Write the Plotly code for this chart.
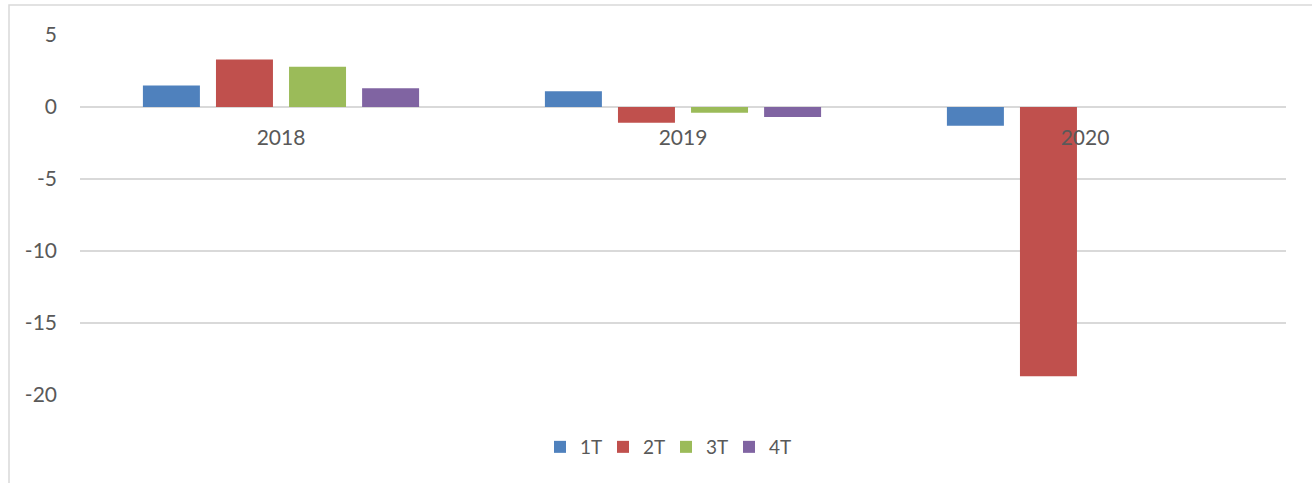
import plotly.graph_objects as go

categories = ["2018", "2019", "2020"]
series_names = ["1T", "2T", "3T", "4T"]
values_1T = [1.5, 1.1, -1.3]
values_2T = [3.3, -1.1, -18.7]
values_3T = [2.8, -0.4, None]
values_4T = [1.3, -0.7, None]
y_ticks = [5, 0, -5, -10, -15, -20]
y_tick_labels = ["5", "0", "-5", "-10", "-15", "-20"]

colors = ["#4F81BD", "#C0504D", "#9BBB59", "#8064A2"]
all_values = [values_1T, values_2T, values_3T, values_4T]

fig = go.Figure()
for name, vals, col in zip(series_names, all_values, colors):
    fig.add_trace(go.Bar(x=categories, y=vals, name=name, marker=dict(color=col, line=dict(width=0))))

W, H = 1312, 483
L, R, T, B = 80, 26, 35, 88
ymin, ymax = -20, 5
zero_pos = (0 - ymin) / (ymax - ymin)
ph = H - T - B
pw = W - L - R

fig.update_layout(
    width=W, height=H,
    margin=dict(l=L, r=R, t=T, b=B, pad=0),
    paper_bgcolor="white", plot_bgcolor="white",
    barmode="group", bargap=0.273, bargroupgap=0.22,
    font=dict(family="Lato, Open Sans, sans-serif", size=21, color="#595959"),
    showlegend=True,
    legend=dict(orientation="h", x=(666 - L) / pw, xanchor="center", y=-(447 - 395) / ph, yanchor="middle",
                font=dict(size=19, color="#595959"), itemwidth=30, traceorder="normal",
                entrywidth=18, entrywidthmode="pixels"),
    xaxis=dict(anchor="free", position=zero_pos, showgrid=False, showline=False, ticks="",
               ticklabelstandoff=16, tickfont=dict(size=21, color="#595959")),
    yaxis=dict(range=[ymin, ymax], tickvals=y_ticks, ticktext=y_tick_labels, showgrid=True,
               gridcolor="#D9D9D9", gridwidth=1.5,
               zeroline=True, zerolinecolor="#D9D9D9", zerolinewidth=1.5, showline=False, ticks="",
               ticklabelstandoff=22, tickfont=dict(size=21, color="#595959")),
    shapes=[dict(type="rect", xref="paper", yref="paper",
                 x0=(9 - L) / pw, x1=1.5, y0=-1.0, y1=1 + (T - 5) / ph,
                 line=dict(color="#D9D9D9", width=1.5), fillcolor="rgba(0,0,0,0)", layer="below")],
)

fig.write_html("out.html", config={"displayModeBar": False},
               post_script="document.body.style.margin='0';document.body.style.overflow='hidden';")
